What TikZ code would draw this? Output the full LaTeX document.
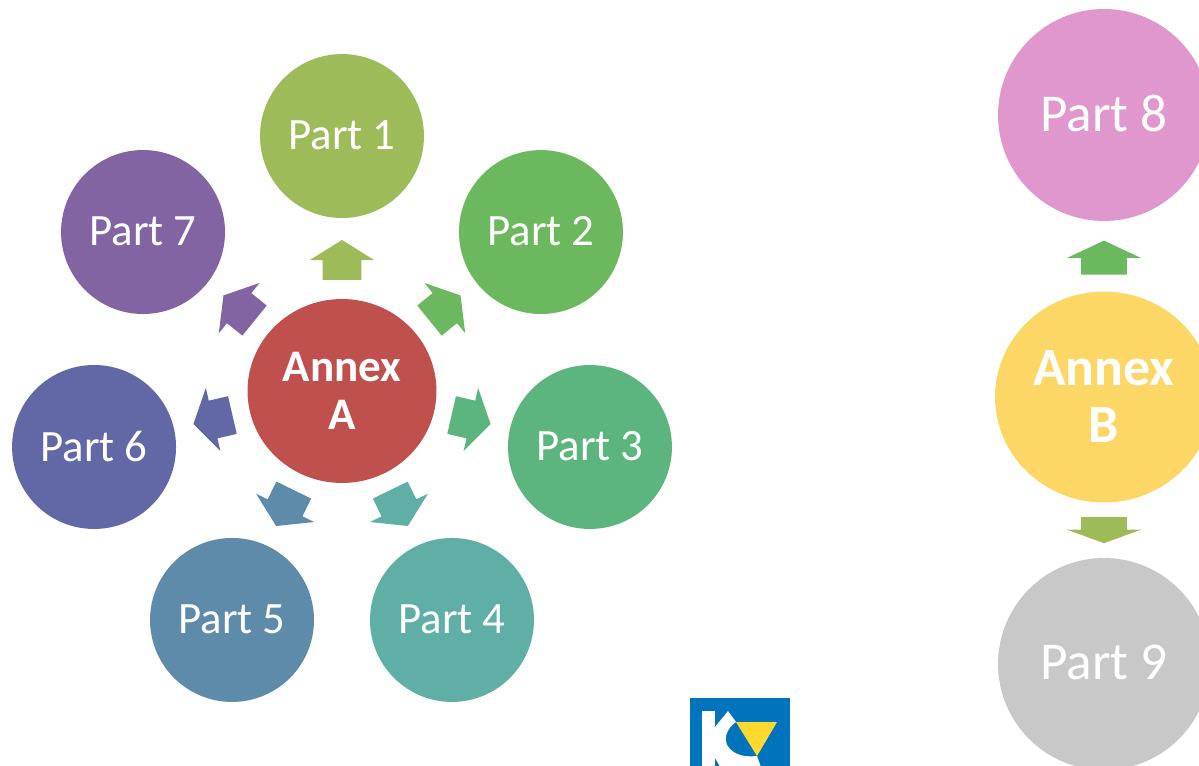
\documentclass[tikz,border=0pt]{standalone}
\usepackage{fontspec}
\setmainfont{Carlito}
\usetikzlibrary{shapes.arrows,shapes.geometric}
\definecolor{cpartone}{HTML}{9DBB59}
\definecolor{cparttwo}{HTML}{6CB85E}
\definecolor{cpartthree}{HTML}{5CB57F}
\definecolor{cpartfour}{HTML}{5FAFA6}
\definecolor{cpartfive}{HTML}{5F8BAB}
\definecolor{cpartsix}{HTML}{6268A6}
\definecolor{cpartseven}{HTML}{8264A3}
\definecolor{cpartnine}{HTML}{C8C8C8}
\definecolor{cparteight}{HTML}{DF97CD}
\definecolor{cannexa}{HTML}{C0504D}
\definecolor{cannexb}{HTML}{FDD766}
\definecolor{clogo}{HTML}{0073BD}
\definecolor{clogoy}{HTML}{FFD92F}
\begin{document}
\begin{tikzpicture}[x=.02cm,y=-.02cm,node distance=4cm]
  \tikzstyle{place}=[circle,text=white,inner sep=0pt,minimum size=3.28cm,text depth=.03cm,font=\fontsize{25.5}{30}\selectfont]
  \tikzstyle{bigplace}=[circle,text=white,inner sep=0pt,minimum size=4.24cm,text depth=.08cm,font=\fontsize{30.3}{35}\selectfont]
  \tikzstyle{blockl}=[single arrow,inner xsep=0pt,inner ysep=.38cm,minimum height=.8cm,single arrow head extend=.26cm,single arrow tip angle=116,single arrow head indent=0pt]
  \tikzstyle{blockr}=[single arrow,inner xsep=0pt,inner ysep=.45cm,minimum height=.68cm,single arrow head extend=.28cm,single arrow tip angle=130,single arrow head indent=0pt]

  \clip (0,0) rectangle (1199,766);
  \useasboundingbox (0,0) rectangle (1199,766);

  \begin{scope}
    \node [ellipse,fill=cannexa,text=white,align=center,inner sep=0pt,minimum width=3.78cm,minimum height=3.68cm,font=\fontsize{25.7}{27}\selectfont\bfseries] (a1) at (342,391) {Annex\\A};

    \node [place,fill=cpartone] (p1) [above of=a1,yshift=1.1cm] {Part 1};
    \node [place,fill=cparttwo] (p2) [right of=a1,xshift=-.02cm,yshift=3.18cm] {Part 2};
    \node [place,fill=cpartthree] (p3) [right of=a1,xshift=.96cm,yshift=-1.12cm] {Part 3};
    \node [place,fill=cpartfour] (p4) [below of=a1,xshift=2.2cm,yshift=-.58cm] {Part 4};
    \node [place,fill=cpartfive] (p5) [below of=a1,xshift=-2.2cm,yshift=-.58cm] {Part 5};
    \node [place,fill=cpartsix] (p6) [left of=a1,xshift=-.96cm,yshift=-1.12cm] {Part 6};
    \node [place,fill=cpartseven] (p7) [left of=a1,xshift=.02cm,yshift=3.18cm] {Part 7};

    \node [blockl,fill=cpartone,rotate=90] (s1) at (342,266) {};
    \node [blockl,fill=cparttwo,rotate=39] (s2) at (440.3,311.8) {};
    \node [blockl,fill=cpartthree,rotate=-13] (s3) at (465.2,418.2) {};
    \node [blockl,fill=cpartfour,rotate=-64] (s4) at (396.4,502.6) {};
    \node [blockl,fill=cpartfive,rotate=-116] (s5) at (287.6,502.6) {};
    \node [blockl,fill=cpartsix,rotate=193] (s6) at (218.8,418.2) {};
    \node [blockl,fill=cpartseven,rotate=141] (s7) at (243.7,311.8) {};
  \end{scope}

  \begin{scope}
    \node [ellipse,fill=cannexb,text=white,align=center,inner sep=0pt,minimum width=4.36cm,minimum height=4.22cm,font=\fontsize{30.6}{32.5}\selectfont\bfseries] (a2) at (1104,397) {Annex\\B};

    \node [bigplace,fill=cparteight] (p8) at (1104,115) {Part 8};
    \node [bigplace,fill=cpartnine] (p9) at (1104,664) {Part 9};

    \node [blockr,fill=cparttwo,rotate=90] (s8) at (1104,263) {};
    \node [blockr,fill=cpartone,rotate=-90,minimum height=.52cm,single arrow tip angle=140] (s9) at (1104,526) {};
  \end{scope}

  % logo
  \fill [clogo] (690,698) rectangle (790,770);
  \fill [white] (702,711) rectangle (715,770);
  \fill [white] (715,727) -- (728,711) -- (736,722) .. controls (726,729) and (722,741) .. (730,749) .. controls (737,756) and (747,757) .. (757,756) -- (762,770) -- (722,770) -- (715,758) -- cycle;
  \fill [clogoy] (736,722) -- (777,722) -- (757,756) -- cycle;
\end{tikzpicture}
\end{document}
